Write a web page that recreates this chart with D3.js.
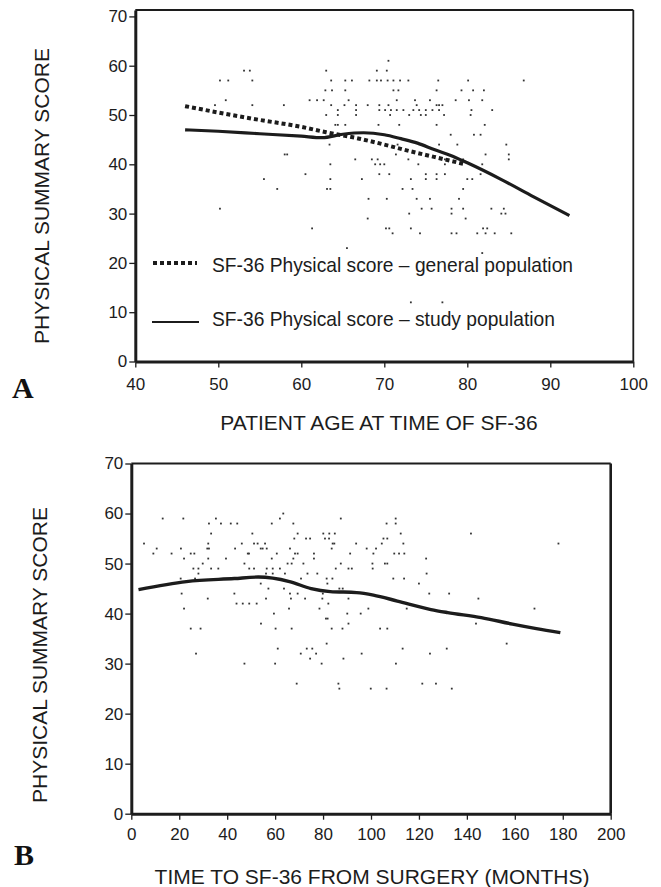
<!DOCTYPE html>
<html>
<head>
<meta charset="utf-8">
<script src="https://cdnjs.cloudflare.com/ajax/libs/d3/7.8.5/d3.min.js"></script>
<style>
  body { margin: 0; background: #fff; }
  svg { display: block; font-family: "Liberation Sans", Arial, sans-serif; }
</style>
</head>
<body>
<script>

//  Panel A: ticks
const ageTicks = [40, 50, 60, 70, 80, 90, 100];
const scoreTicks = [0, 10, 20, 30, 40, 50, 60, 70];

//  Panel A: smoothed curves
const generalAge = [46, 50, 55, 60, 63, 67, 70, 73, 76, 79.5];
const generalScore = [51.8, 50.5, 49.0, 47.6, 46.5, 45.2, 44.0, 42.7, 41.5, 40.1];
const studyAge = [46, 50, 55, 60, 62.5, 65, 67.5, 70, 72, 74, 76, 78, 80, 84, 88, 92.3];
const studyScore = [47.0, 46.7, 46.2, 45.7, 45.4, 46.1, 46.4, 46.0, 45.2, 44.3, 43.0, 41.8, 40.3, 37.0, 33.4, 29.6];

//  Panel A: individual patients, one row per score with the ages at that score
const dotsA = [
  [61, [70.5]],
  [59, [53.1, 53.8, 63.0, 69.1, 70.3]],
  [57, [50.2, 51.2, 54.1, 63.6, 65.3, 66.1, 68.2, 69.1, 69.6, 70.4, 71.1, 71.9, 72.9, 76.5, 80.1, 86.8]],
  [55, [62.9, 63.7, 65.3, 71.1, 71.7, 76.3, 79.3, 80.7, 82.0]],
  [53, [50.9, 61.0, 61.9, 62.7, 65.7, 71.5, 73.7, 75.5, 78.6, 80.2, 81.8]],
  [52, [49.6, 54.1, 57.9, 63.6, 65.2, 66.6, 68.0, 69.4, 70.5, 73.9, 76.3, 76.6, 77.0]],
  [51, [64.4, 66.6, 69.4, 70.1, 70.8, 71.5, 72.3, 73.5, 74.2, 75.0, 75.8, 76.6, 80.5, 83.0]],
  [50, [63.0, 64.4, 66.6, 70.7, 73.0, 74.4, 75.0, 77.2, 80.4]],
  [48, [64.1, 64.4, 65.3, 69.3, 71.8, 76.3, 82.1]],
  [46, [78.0, 80.8, 81.6]],
  [44, [63.4, 71.6, 76.6, 78.8, 84.7]],
  [42, [58.0, 58.3, 71.4, 82.2, 85.0]],
  [41, [66.5, 68.5, 69.2, 72.9, 77.3, 79.5, 85.0]],
  [40, [63.5, 68.9, 69.5, 70.0, 74.1, 77.3, 81.8]],
  [38, [60.5, 69.4, 70.6, 75.0, 76.3, 77.3, 81.6]],
  [37, [55.5, 63.5, 67.3, 73.2, 75.0, 76.3, 80.0, 80.6]],
  [35, [57.1, 63.1, 63.5, 72.2, 73.4, 79.5]],
  [33, [68.1, 70.3, 73.9, 75.5, 79.0]],
  [31, [50.2, 74.5, 75.7, 78.1, 79.5, 82.9, 84.4]],
  [30, [73.0, 78.1, 84.1, 84.6]],
  [29, [68.0, 79.8]],
  [27, [61.3, 70.2, 70.6, 73.2, 81.9, 82.4]],
  [26, [71.0, 74.3, 78.1, 78.7, 81.2, 82.2, 83.3, 85.3]],
  [23, [65.5]],
  [22, [81.8]],
  [12, [73.2, 77.0]],
];

const legendLabels = [
  "SF-36 Physical score \u2013 general population",
  "SF-36 Physical score \u2013 study population",
];

//  Panel B: ticks
const monthTicks = [0, 20, 40, 60, 80, 100, 120, 140, 160, 180, 200];

//  Panel B: smoothed curve
const curveMonths = [3, 23, 43, 53, 66, 75, 83, 94, 101, 111, 125, 132, 146, 159, 169, 179];
const curveScore = [44.8, 46.4, 47.0, 47.3, 46.4, 45.0, 44.4, 44.2, 43.7, 42.5, 40.8, 40.2, 39.2, 37.9, 37.0, 36.2];

//  Panel B: individual patients, one row per score with the months at that score
const dotsB = [
  [60, [63.4]],
  [59, [13.1, 21.7, 35.3, 62.0, 87.4, 110.3]],
  [58, [32.4, 37.4, 41.5, 44.2, 58.6, 67.6, 106.5, 110.3]],
  [56, [33.3, 50.5, 69.4, 80.1, 82.6, 84.9, 112.4, 141.7]],
  [55, [68.0, 72.9, 74.6, 80.8, 82.5, 105.2, 106.8]],
  [54, [5.3, 32.1, 46.1, 51.2, 52.7, 55.8, 84.0, 84.7, 93.8, 104.5, 113.5, 178.2]],
  [53, [10.6, 20.7, 31.7, 32.4, 43.3, 54.0, 54.8, 56.5, 66.2, 83.6, 98.2, 102.1]],
  [52, [9.2, 16.8, 24.8, 26.3, 48.6, 49.1, 60.7, 68.3, 69.4, 76.2, 91.3, 101.0, 109.7, 111.7, 113.9]],
  [51, [22.0, 32.1, 39.5, 58.6, 67.6, 76.2, 123.0]],
  [50, [29.8, 47.2, 65.2, 66.9, 71.8, 87.4, 100.6, 105.8, 106.8]],
  [49, [25.9, 28.0, 33.3, 36.3, 49.2, 51.2, 56.5, 59.0, 62.0, 85.3, 90.6, 92.0, 100.7]],
  [48, [28.0, 56.2, 59.0, 64.1, 73.5, 77.6, 123.2]],
  [47, [20.6, 26.6, 70.8, 81.5, 83.9, 109.3, 113.8]],
  [46, [54.0, 81.8, 120.0]],
  [45, [57.2, 63.7, 75.3, 86.8, 88.2]],
  [44, [21.0, 43.0, 66.2, 69.4, 79.9, 124.3, 132.6]],
  [43, [31.9, 56.2, 66.6, 72.5, 79.7, 90.6, 144.8]],
  [42, [43.9, 46.5, 49.2, 52.3, 82.2]],
  [41, [22.0, 65.8, 78.5, 98.9, 114.9, 168.2]],
  [40, [59.5, 90.1, 95.7]],
  [39, [81.2, 81.9]],
  [38, [54.1, 90.6, 143.8]],
  [37, [24.8, 28.9, 60.2, 66.9, 83.6, 88.1, 103.8, 106.8]],
  [34, [81.5, 156.6]],
  [33, [61.1, 73.2, 75.5, 113.2, 131.6]],
  [32, [27.0, 70.7, 77.1, 96.1, 124.6]],
  [31, [74.6, 88.5]],
  [30, [47.2, 60.0, 79.4, 110.4]],
  [26, [69.0, 86.4, 121.4, 127.1]],
  [25, [86.8, 99.9, 106.5, 133.7]],
];

const ink = "#1c1c1c";

const svg = d3
  .select("body")
  .append("svg")
  .attr("width", 661)
  .attr("height", 887);

//  Flatten the score rows into [x, score] pairs for drawing
function flatten(rows) {
  const out = [];
  rows.forEach(([score, xs]) => xs.forEach((v) => out.push([v, score])));
  return out;
}

//  Draws one panel: frame, axes, dots and titles
function drawPanel(p) {
  const g = svg.append("g");
  const x = p.x, y = p.y;
  const [x0, x1] = x.range();
  const [yb, yt] = y.range();

  //  thin frame on top and right
  g.append("line")
    .attr("x1", x0).attr("x2", x1).attr("y1", yt).attr("y2", yt)
    .attr("stroke", ink).attr("stroke-width", 2);
  g.append("line")
    .attr("x1", x1).attr("x2", x1).attr("y1", yt).attr("y2", yb)
    .attr("stroke", ink).attr("stroke-width", p.rightWidth);

  //  the scattered patients
  g.append("g")
    .selectAll("rect")
    .data(flatten(p.dots))
    .join("rect")
    .attr("x", (d) => x(d[0]) - 0.9)
    .attr("y", (d) => y(d[1]) - 0.9)
    .attr("width", 1.8)
    .attr("height", 1.8)
    .attr("fill", "#333");

  //  axes
  const yAxis = g.append("g")
    .attr("transform", "translate(" + x0 + ",0)")
    .call(d3.axisLeft(y).tickValues(scoreTicks).tickSize(6).tickSizeOuter(0).tickPadding(2));
  const xAxis = g.append("g")
    .attr("transform", "translate(0," + yb + ")")
    .call(d3.axisBottom(x).tickValues(p.xTicks).tickSize(6).tickSizeOuter(0).tickPadding(p.xPad));

  [xAxis, yAxis].forEach((a) => {
    a.select(".domain").attr("stroke", ink).attr("stroke-width", 3);
    a.selectAll(".tick line").attr("stroke", ink).attr("stroke-width", 1.3);
    a.selectAll(".tick text")
      .attr("fill", ink)
      .style("font-size", "17px")
      .style("font-family", "'Liberation Sans', Arial, sans-serif");
  });

  //  axis titles and panel letter
  g.append("text")
    .attr("x", p.xTitleX).attr("y", p.xTitleY)
    .attr("text-anchor", "middle")
    .attr("fill", ink)
    .style("font-size", "21px")
    .text(p.xTitle);

  g.append("text")
    .attr("transform", "translate(" + p.yTitleX + "," + p.yTitleY + ") rotate(-90)")
    .attr("text-anchor", "middle")
    .attr("fill", ink)
    .style("font-size", "21px")
    .text("PHYSICAL SUMMARY SCORE");

  g.append("text")
    .attr("x", p.letterX).attr("y", p.letterY)
    .attr("fill", "#111")
    .style("font-family", "'Liberation Serif', 'Times New Roman', serif")
    .style("font-weight", "bold")
    .style("font-size", "30px")
    .text(p.letter);

  return g;
}

//  ---- Panel A ----
const xA = d3.scaleLinear().domain([40, 100]).range([135.3, 633.3]);
const yA = d3.scaleLinear().domain([0, 71.3]).range([361.5, 10]);

const gA = drawPanel({
  x: xA, y: yA, xTicks: ageTicks, dots: dotsA, xPad: 10, rightWidth: 1.8,
  xTitle: "PATIENT AGE AT TIME OF SF-36", xTitleX: 379, xTitleY: 430,
  yTitleX: 49, yTitleY: 196, letter: "A", letterX: 12, letterY: 398,
});

const lineA = d3.line().curve(d3.curveMonotoneX).x((d) => xA(d[0])).y((d) => yA(d[1]));

gA.append("path")
  .datum(generalAge.map((a, i) => [a, generalScore[i]]))
  .attr("d", lineA)
  .attr("fill", "none")
  .attr("stroke", ink)
  .attr("stroke-width", 4)
  .attr("stroke-dasharray", "4 3");

gA.append("path")
  .datum(studyAge.map((a, i) => [a, studyScore[i]]))
  .attr("d", lineA)
  .attr("fill", "none")
  .attr("stroke", ink)
  .attr("stroke-width", 3.2)
  .attr("stroke-linejoin", "round");

//  legend inside panel A
const legend = gA.append("g");
legend.append("line")
  .attr("x1", 153).attr("x2", 197).attr("y1", 263).attr("y2", 263)
  .attr("stroke", ink).attr("stroke-width", 4).attr("stroke-dasharray", "4 3");
legend.append("line")
  .attr("x1", 152).attr("x2", 199).attr("y1", 322).attr("y2", 322)
  .attr("stroke", ink).attr("stroke-width", 2);
legend.selectAll("text.leg")
  .data(legendLabels)
  .join("text")
  .attr("class", "leg")
  .attr("x", 212)
  .attr("y", (d, i) => (i === 0 ? 271.5 : 325.5))
  .attr("textLength", (d, i) => (i === 0 ? 361 : 343))
  .attr("lengthAdjust", "spacingAndGlyphs")
  .attr("fill", ink)
  .style("font-size", "21px")
  .text((d) => d);

//  ---- Panel B ----
const xB = d3.scaleLinear().domain([0, 200]).range([131.3, 610.7]);
const yB = d3.scaleLinear().domain([0, 70]).range([813.7, 463.5]);

const gB = drawPanel({
  x: xB, y: yB, xTicks: monthTicks, dots: dotsB, xPad: 8.5, rightWidth: 2.6,
  xTitle: "TIME TO SF-36 FROM SURGERY (MONTHS)", xTitleX: 372, xTitleY: 884,
  yTitleX: 47, yTitleY: 655, letter: "B", letterX: 14, letterY: 865,
});

gB.append("path")
  .datum(curveMonths.map((m, i) => [m, curveScore[i]]))
  .attr("d", d3.line().curve(d3.curveMonotoneX).x((d) => xB(d[0])).y((d) => yB(d[1])))
  .attr("fill", "none")
  .attr("stroke", ink)
  .attr("stroke-width", 3.4)
  .attr("stroke-linejoin", "round");
</script>
</body>
</html>
